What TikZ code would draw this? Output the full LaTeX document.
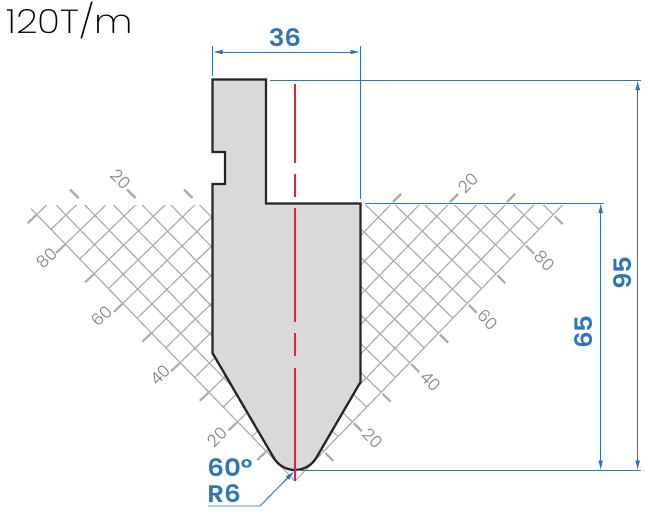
\documentclass[tikz,border=0pt]{standalone}
\usepackage{graphicx}
\usepackage{fontspec}
\setmainfont{Poppins}
\newfontfamily\thinfont{Poppins ExtraLight}
\newfontfamily\labelfont{Poppins Light}
\newfontfamily\dimfont{Poppins SemiBold}
\usetikzlibrary{arrows.meta,calc}
\definecolor{dimblue}{HTML}{2E75B6}
\definecolor{gridgray}{HTML}{ABABAB}
\definecolor{dieline}{HTML}{262626}
\definecolor{diefill}{HTML}{D9D9D9}
\definecolor{centerred}{HTML}{EE1C3A}
\newcommand{\wide}[1]{\scalebox{1.09}[1]{#1}}
\tikzset{
  gridline/.style={gridgray,line width=0.85pt},
  gridtick/.style={gridgray,line width=1.6pt},
  gridlabel/.style={text=gray,inner sep=0pt,font=\labelfont\fontsize{12.5}{12.5}\selectfont},
  dimline/.style={dimblue,line width=0.7pt},
  dimarrow/.style={dimline,{Latex[length=7.5pt,width=3.5pt]}-{Latex[length=7.5pt,width=3.5pt]}},
  dimlabel/.style={text=dimblue,inner sep=0pt,font=\dimfont\fontsize{18}{18}\selectfont}
}
\begin{document}
\begin{tikzpicture}[x=0.75pt,y=-0.75pt]
  \useasboundingbox (0,0) rectangle (647,514);
  \node[anchor=west,inner sep=0pt,font=\thinfont\fontsize{25}{25}\selectfont] (rating) at (6,21) {\scalebox{1.14}[1]{120T/m}};
  \coordinate (apex) at (295,481);
  % left grid
  \begin{scope}
    \clip (20,205) rectangle (295,500);
    \draw[gridline] (apex) -- ($(apex)+18.4*(-14.35,-14.8)$);
    \foreach \k in {1,...,18}{
      \draw[gridline] ($(apex)+\k*(14.8,-14.35)$) -- +($30*(-14.35,-14.8)$);
    }
    \foreach \k in {0,...,18}{
      \draw[gridline] ($(apex)+\k*(-14.35,-14.8)$) -- +($30*(14.8,-14.35)$);
    }
  \end{scope}
  % right grid
  \begin{scope}
    \clip (295,205) rectangle (620,500);
    \foreach \k in {0,...,18}{
      \draw[gridline] ($(apex)+\k*(-14.8,-14.35)$) -- +($30*(14.35,-14.8)$);
      \draw[gridline] ($(apex)+\k*(14.35,-14.8)$) -- +($30*(-14.8,-14.35)$);
    }
  \end{scope}
  % ticks
  \foreach \k in {1,...,9}{
    \draw[gridtick] ($(apex)+2*\k*(-14.35,-14.8)+(-0.5,0.5)$) -- +(-8.5,8);
    \draw[gridtick] ($(apex)+2*\k*(14.35,-14.8)+(1.5,1.5)$) -- +(8,8);
  }
  \foreach \x in {70,127,184}{
    \draw[gridtick] (\x,189.5) -- +(8.5,8.5);
  }
  \foreach \x in {393,450,507}{
    \draw[gridtick] (\x,202) -- +(8,-8);
  }
  \node[gridlabel,rotate=45] (lbl80) at (47,258) {80};
  \node[gridlabel,rotate=45] (lbl60) at (102,316) {60};
  \node[gridlabel,rotate=45] (lbl40) at (160,375) {40};
  \node[gridlabel,rotate=45] (lbl20) at (217,437) {20};
  \node[gridlabel,rotate=-45] (lbltop) at (121,179) {20};
  \node[gridlabel,rotate=45] (rbltop) at (468,183) {20};
  \node[gridlabel,rotate=-45] (rbl20) at (373,438) {20};
  \node[gridlabel,rotate=-45] (rbl40) at (431,381) {40};
  \node[gridlabel,rotate=-45] (rbl60) at (488,320) {60};
  \node[gridlabel,rotate=-45] (rbl80) at (545,261) {80};
  % die profile
  \draw[dieline,fill=diefill,line width=1.7pt,line join=miter]
    (212.5,79.5) -- (266,79.5) -- (266,203.5) -- (360.5,203.5) -- (360.5,382)
    -- (316.4,457.6) .. controls (312,465.2) and (303.8,470) .. (295,470)
    .. controls (286.2,470) and (278,465.2) .. (273.6,457.6)
    -- (212.5,353) -- (212.5,184) -- (225,184) -- (225,152) -- (212.5,152) -- cycle;
  % center line
  \foreach \a/\b in {84/163,174/197,208/322,333/356,368/481}{
    \draw[centerred,line width=1.6pt] (294.7,\a) -- (294.7,\b);
  }
  % dimensions
  \draw[dimline] (212.5,46) -- (212.5,76);
  \draw[dimline] (360.5,46) -- (360.5,199);
  \draw[dimarrow] (212.5,52) -- (360.5,52);
  \node[dimlabel] (dim36) at (285,38) {\wide{36}};
  \draw[dimline] (270,80) -- (641,80);
  \draw[dimline] (365,203) -- (604,203);
  \draw[dimline] (295,470.5) -- (641,470.5);
  \draw[dimarrow] (637.7,80) -- (637.7,470.5);
  \draw[dimarrow] (600.7,203) -- (600.7,470.5);
  \node[dimlabel,rotate=90] (dim95) at (623,273) {\wide{95}};
  \node[dimlabel,rotate=90] (dim65) at (584,332) {\wide{65}};
  \node[dimlabel,anchor=west] (angle) at (207,468) {\wide{60°}};
  \node[dimlabel,anchor=west] (radius) at (207,494) {\wide{R6}};
  \coordinate (leader) at (208,506);
  \coordinate (tip) at (294.5,471);
  \draw[dimline,-{Latex[length=7.5pt,width=3.5pt]}] (leader) -- (260,506) -- (tip);
\end{tikzpicture}
\end{document}
